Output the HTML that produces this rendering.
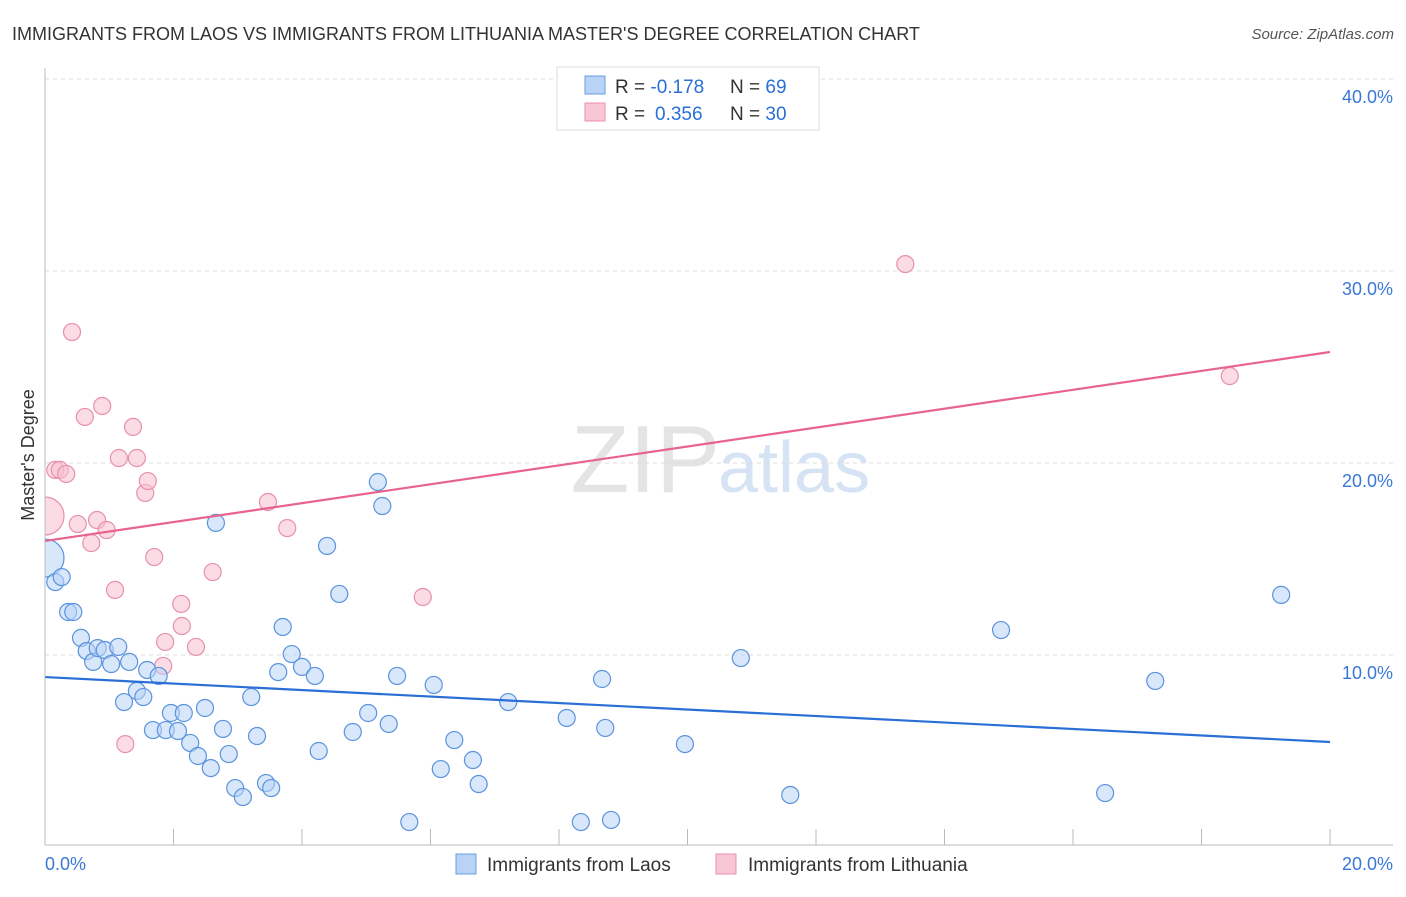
<!DOCTYPE html>
<html><head><meta charset="utf-8">
<style>
body{margin:0;background:#fff;font-family:"Liberation Sans",sans-serif;}
svg text{font-family:"Liberation Sans",sans-serif;}
</style></head>
<body>
<svg id="chart" width="1406" height="892">
<defs><clipPath id="plot"><rect x="45" y="60" width="1360" height="786"/></clipPath></defs>
<text x="12" y="40" font-size="18" fill="#333">IMMIGRANTS FROM LAOS VS IMMIGRANTS FROM LITHUANIA MASTER'S DEGREE CORRELATION CHART</text>
<text x="1394" y="39" font-size="15" fill="#555" text-anchor="end" font-style="italic">Source: ZipAtlas.com</text>
<text x="720" y="492" font-size="96" fill="#e4e4e4" text-anchor="end" font-family="Liberation Serif">ZIP</text>
<text x="718" y="492" font-size="72" fill="#d5e3f5">atlas</text>
<g id="grid"></g>
<g id="marks" clip-path="url(#plot)"></g>
<g id="axes"></g>
<text transform="translate(34,455) rotate(-90)" font-size="18" fill="#333" text-anchor="middle">Master's Degree</text>
<g>
<rect x="557" y="67" width="262" height="63" fill="#fff" stroke="#ddd"/>
<rect x="585" y="76" width="20" height="18" fill="#b8d3f5" stroke="#6a9ee0"/>
<rect x="585" y="103" width="20" height="18" fill="#f8c6d4" stroke="#e890aa"/>
<text x="615" y="93" font-size="19" fill="#333">R = <tspan fill="#2a6fd6">-0.178</tspan><tspan x="730">N = </tspan><tspan fill="#2a6fd6">69</tspan></text>
<text x="615" y="120" font-size="19" fill="#333">R = <tspan x="655" fill="#2a6fd6">0.356</tspan><tspan x="730">N = </tspan><tspan fill="#2a6fd6">30</tspan></text>
</g>
<g>
<rect x="456" y="854" width="20" height="20" fill="#b8d3f5" stroke="#6a9ee0"/>
<text x="487" y="871" font-size="19" fill="#333">Immigrants from Laos</text>
<rect x="716" y="854" width="20" height="20" fill="#f8c6d4" stroke="#e890aa"/>
<text x="748" y="871" font-size="19" fill="#333">Immigrants from Lithuania</text>
</g>
</svg>
<script>
const laosX=[0.11,0.16,0.26,0.36,0.44,0.56,0.65,0.75,0.82,0.93,1.03,1.14,1.23,1.31,1.43,1.53,1.59,1.68,1.77,1.88,1.96,2.07,2.16,2.26,2.38,2.49,2.58,2.66,2.77,2.86,2.96,3.08,3.21,3.30,3.44,3.52,3.63,3.70,3.84,4.00,4.20,4.26,4.39,4.58,4.79,5.03,5.18,5.25,5.35,5.48,5.67,6.05,6.16,6.37,6.66,6.75,7.21,8.12,8.34,8.67,8.72,8.81,9.96,10.83,11.60,14.88,16.50,17.28,19.24];
const laosY=[15.05,13.80,14.06,12.24,12.24,10.89,10.21,9.64,10.36,10.26,9.53,10.42,7.55,9.64,8.13,7.81,9.22,6.09,8.91,6.09,6.98,6.04,6.98,5.42,4.74,7.24,4.11,16.88,6.15,4.84,3.07,2.60,7.81,5.78,3.33,3.07,9.11,11.46,10.05,9.38,8.91,5.00,15.68,13.18,5.99,6.98,19.01,17.76,6.41,8.91,1.30,8.44,4.06,5.57,4.53,3.28,7.55,6.72,1.30,8.75,6.20,1.41,5.36,9.84,2.71,11.30,2.81,8.65,13.13];
const lithX=[0.05,0.16,0.23,0.33,0.42,0.51,0.62,0.72,0.81,0.89,0.96,1.09,1.15,1.25,1.37,1.43,1.56,1.60,1.70,1.84,1.87,2.12,2.13,2.35,2.61,3.47,3.77,5.88,13.39,18.44];
const lithY=[17.24,19.64,19.64,19.43,26.82,16.82,22.40,15.83,17.03,22.97,16.51,13.39,20.26,5.36,21.88,20.26,18.44,19.06,15.10,9.43,10.68,12.66,11.51,10.42,14.32,17.97,16.61,13.02,30.36,24.53];
const laosTrend=[8.85,5.47];
const lithTrend=[15.94,25.78];
const yTicks=[10,20,30,40];
const xTickLabels=["0.0%","20.0%"];
const NS="http://www.w3.org/2000/svg";
const sx=v=>45+v*64.25, sy=v=>847-v*19.2;
function mk(tag,attrs,parent){const e=document.createElementNS(NS,tag);for(const k in attrs)e.setAttribute(k,attrs[k]);parent.appendChild(e);return e;}
const grid=document.getElementById('grid'),axes=document.getElementById('axes'),marks=document.getElementById('marks');
yTicks.forEach(t=>{
 const l=mk('line',{x1:45,x2:1393,y1:sy(t),y2:sy(t),stroke:'#ddd','stroke-dasharray':'4,4'},grid);
 
 
 const tx=mk('text',{x:1393,y:sy(t)+24,'font-size':18,fill:'#3a78d8','text-anchor':'end'},axes);
 tx.textContent=t.toFixed(1)+'%';
 
 
});
const ax=mk('line',{x1:45,x2:1393,y1:845,y2:845,stroke:'#bbb'},axes);


const ay=mk('line',{x1:45,x2:45,y1:68,y2:845,stroke:'#bbb'},axes);


for(let i=0;i<=10;i++){
 const t=mk('line',{x1:sx(i*2),x2:sx(i*2),y1:829,y2:845,stroke:'#bbb'},axes);
 
 
}
[[0,45,'start'],[20,1393,'end']].forEach((d,i)=>{
 const tx=mk('text',{x:d[1],y:870,'font-size':18,fill:'#3a78d8','text-anchor':d[2]},axes);
 tx.textContent=xTickLabels[i];
 
 
});
function pts(X,Y,fill,stroke,name){
 X.forEach((x,i)=>{
  const big=i===0&&x<0.2;
  const c=mk('circle',{cx:big?45:sx(x),cy:sy(Y[i]),r:big?19:8.5,fill:fill,'fill-opacity':0.55,stroke:stroke,'stroke-width':1.2},marks);
  
  
 });
}
pts(lithX,lithY,'#f8c0d0','#e890aa','point-lithuania');
pts(laosX,laosY,'#b8d3f5','#5a93de','point-laos');
const t1=mk('line',{x1:sx(0),y1:sy(laosTrend[0]),x2:sx(20),y2:sy(laosTrend[1]),stroke:'#2a6fd6','stroke-width':2.2},marks);


const t2=mk('line',{x1:sx(0),y1:sy(lithTrend[0]),x2:sx(20),y2:sy(lithTrend[1]),stroke:'#e8638e','stroke-width':2.2},marks);


</script>
</body></html>
